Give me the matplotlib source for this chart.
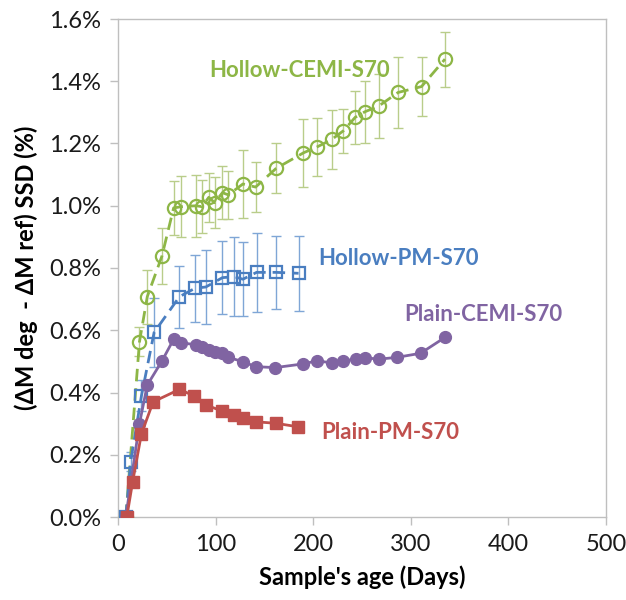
import matplotlib
matplotlib.use("Agg")
import matplotlib.pyplot as plt
from matplotlib.ticker import FuncFormatter, MultipleLocator

plt.rcParams['font.family'] = ['Lato', 'DejaVu Sans']

# Hollow-CEMI-S70 (green, open circles, dashed)
days_hc = [8, 22, 30, 45, 57, 65, 80, 86, 93, 99, 107, 113, 128, 141, 162, 190, 204, 219, 231, 243, 253, 267, 287, 311, 335]
vals_hc = [0.0, 0.563, 0.708, 0.838, 0.993, 0.997, 1.000, 0.997, 1.027, 1.010, 1.042, 1.035, 1.070, 1.060, 1.120,
           1.170, 1.189, 1.213, 1.241, 1.284, 1.302, 1.320, 1.364, 1.383, 1.471]
err_hc = [0.0, 0.047, 0.087, 0.090, 0.086, 0.097, 0.100, 0.086, 0.078, 0.082, 0.085, 0.076, 0.109, 0.079, 0.080,
          0.110, 0.092, 0.095, 0.070, 0.085, 0.100, 0.103, 0.115, 0.095, 0.088]

# Hollow-PM-S70 (blue, open squares, dashed)
days_hp = [8, 13, 24, 37, 63, 79, 90, 107, 119, 128, 142, 162, 185]
vals_hp = [0.0, 0.178, 0.389, 0.593, 0.708, 0.735, 0.739, 0.769, 0.772, 0.764, 0.786, 0.786, 0.783]
err_hp = [0.0, 0.030, 0.050, 0.110, 0.100, 0.107, 0.118, 0.118, 0.127, 0.118, 0.126, 0.117, 0.120]

# Plain-CEMI-S70 (purple, filled circles, solid)
days_pc = [8, 22, 30, 45, 57, 65, 80, 86, 93, 99, 107, 113, 128, 141, 161, 190, 204, 219, 231, 244, 253, 267, 286, 310, 335]
vals_pc = [0.0, 0.300, 0.424, 0.501, 0.571, 0.560, 0.553, 0.545, 0.537, 0.529, 0.526, 0.513, 0.499, 0.483, 0.480,
           0.492, 0.502, 0.495, 0.501, 0.508, 0.512, 0.507, 0.513, 0.526, 0.577]

# Plain-PM-S70 (red, filled squares, solid)
days_pp = [9, 15, 24, 36, 63, 78, 90, 107, 119, 128, 141, 162, 184]
vals_pp = [0.0, 0.113, 0.267, 0.370, 0.410, 0.389, 0.360, 0.340, 0.328, 0.319, 0.306, 0.301, 0.290]

x_ticks = [0, 100, 200, 300, 400, 500]

GREEN = '#8DB646'
GREEN_ERR = '#B9CD8A'
BLUE = '#4A7EC0'
BLUE_ERR = '#7FA6D6'
PURPLE = '#8064A2'
RED = '#C0504D'

fig = plt.figure(figsize=(6.26, 6.0), dpi=100)
ax = fig.add_axes([118/626, 1-517/600, (606-118)/626, (517-19)/600])

# error bars
ax.errorbar(days_hc, vals_hc, yerr=err_hc, fmt='none', ecolor=GREEN_ERR, elinewidth=1.0, capsize=3.5, capthick=1.0, zorder=2)
ax.errorbar(days_hp, vals_hp, yerr=err_hp, fmt='none', ecolor=BLUE_ERR, elinewidth=1.0, capsize=3.5, capthick=1.0, zorder=2)

ax.plot(days_hc, vals_hc, color=GREEN, lw=2.0, dashes=(4.5, 2.5), marker='o', markersize=9.5,
        markerfacecolor='none', markeredgecolor=GREEN, markeredgewidth=1.6, zorder=3)
ax.plot(days_hp, vals_hp, color=BLUE, lw=2.0, dashes=(4.5, 2.5), marker='s', markersize=8.5,
        markerfacecolor='none', markeredgecolor=BLUE, markeredgewidth=1.6, zorder=3)
ax.plot(days_pc, vals_pc, color=PURPLE, lw=2.0, marker='o', markersize=8.5,
        markerfacecolor=PURPLE, markeredgecolor=PURPLE, zorder=4)
ax.plot(days_pp, vals_pp, color=RED, lw=2.0, marker='s', markersize=8.5,
        markerfacecolor=RED, markeredgecolor=RED, zorder=4)

ax.set_xlim(0, 500)
ax.set_ylim(0, 1.6)
ax.set_xticks(x_ticks)
ax.yaxis.set_major_locator(MultipleLocator(0.2))
ax.yaxis.set_major_formatter(FuncFormatter(lambda v, p: f"{v:.1f}%"))

for s in ax.spines.values():
    s.set_color('#BFBFBF')
    s.set_linewidth(1.0)
ax.tick_params(axis='both', direction='out', length=6, width=1.0, color='#BFBFBF',
               labelsize=17, labelcolor='#1a1a1a', pad=6)

ax.set_xlabel("Sample's age (Days)", fontsize=17, fontweight='bold', labelpad=8)
ax.set_ylabel("(ΔM deg  - ΔM ref) SSD (%)", fontsize=17, fontweight='bold', labelpad=8)

ax.text(186.5, 1.436, "Hollow-CEMI-S70", color=GREEN, fontsize=16, fontweight='bold', ha='center', va='center')
ax.text(287, 0.832, "Hollow-PM-S70", color=BLUE, fontsize=16, fontweight='bold', ha='center', va='center')
ax.text(374, 0.652, "Plain-CEMI-S70", color=PURPLE, fontsize=16, fontweight='bold', ha='center', va='center')
ax.text(279, 0.27, "Plain-PM-S70", color=RED, fontsize=16, fontweight='bold', ha='center', va='center')

fig.savefig('out.png', dpi=100)
